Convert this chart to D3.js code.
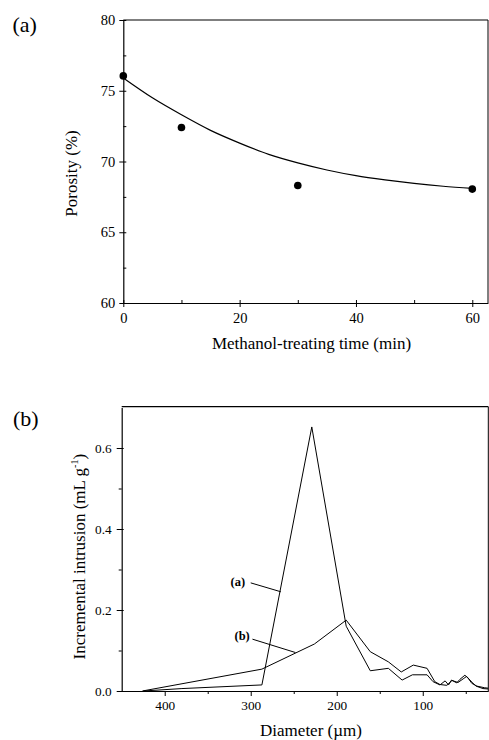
<!DOCTYPE html>
<html>
<head>
<meta charset="utf-8">
<script src="https://cdn.jsdelivr.net/npm/d3@7"></script>
<style>
  html, body { margin: 0; padding: 0; background: #fff; }
  svg { display: block; }
  text { font-family: "Liberation Serif", "Times New Roman", serif; fill: #000; }
</style>
</head>
<body>
<svg id="chart" width="489" height="740"></svg>
<script>
// ---------- Panel (a) data ----------
const timeMin = [0, 10, 30, 60];
const porosity = [76.05, 72.4, 68.3, 68.05];
// fitted curve
const fitTime = [0, 5, 10, 15, 20, 25, 30, 35, 40, 45, 50, 55, 60];
const fitPorosity = [75.9, 74.5, 73.3, 72.2, 71.3, 70.5, 69.9, 69.4, 69.0, 68.7, 68.45, 68.25, 68.1];
const aXTicks = [0, 20, 40, 60];
const aXMinor = [10, 30, 50];
const aYTicks = [60, 65, 70, 75, 80];
const aYMinor = [62.5, 67.5, 72.5, 77.5];

// ---------- Panel (b) data ----------
const diamA = [425, 380, 287, 229, 189, 161, 140, 124, 112, 95, 88, 80, 74, 70, 66.6, 60.5, 56.7, 51, 47, 43, 37, 28, 24];
const intrA = [0, 0.006, 0.015, 0.652, 0.16, 0.05, 0.056, 0.027, 0.04, 0.04, 0.023, 0.015, 0.025, 0.015, 0.027, 0.02, 0.029, 0.039, 0.031, 0.019, 0.012, 0.008, 0.007];
const diamB = [426, 287, 226, 189, 161, 140, 125, 111, 95, 86, 80, 72, 66, 59, 53, 49, 43, 38, 30, 24];
const intrB = [0, 0.054, 0.116, 0.175, 0.097, 0.072, 0.047, 0.064, 0.056, 0.023, 0.016, 0.014, 0.026, 0.021, 0.03, 0.036, 0.022, 0.012, 0.006, 0.005];
const bXTicks = [400, 300, 200, 100];
const bXMinor = [350, 250, 150, 50];
const bYTicks = [0, 0.2, 0.4, 0.6];
const bYMinor = [0.1, 0.3, 0.5];
// annotation labels (data coordinates): label point, leader start, leader end
const annoNames = ["(a)", "(b)"];
const annoLabel = [[315, 0.27], [310, 0.136]];
const annoFrom = [[300, 0.267], [298, 0.128]];
const annoTo = [[265, 0.245], [248, 0.095]];

const svg = d3.select("#chart");

function drawTicks(g, axisGen, vals, minor, fontSize, fmt, outer, inner) {
  const ax = g.call(axisGen.tickValues(vals).tickSize(outer).tickSizeOuter(0).tickFormat(fmt));
  ax.select(".domain").attr("stroke", "#000").attr("stroke-width", 1.2);
  ax.selectAll(".tick text").style("font-size", fontSize + "px").style("font-family", '"Liberation Serif", serif');
  return ax;
}

// ================= PANEL (a) =================
{
  const L = 123.3, R = 488, T = 20, B = 303;
  const x = d3.scaleLinear().domain([0, 62.7]).range([L, R]);
  const y = d3.scaleLinear().domain([60, 80]).range([B, T]);
  const g = svg.append("g");

  // frame top & right
  g.append("line").attr("x1", L).attr("x2", R).attr("y1", T).attr("y2", T).attr("stroke", "#000").attr("stroke-width", 1.2);
  g.append("line").attr("x1", R).attr("x2", R).attr("y1", T).attr("y2", B).attr("stroke", "#000").attr("stroke-width", 1);

  const xa = g.append("g").attr("transform", `translate(0,${B})`)
    .call(d3.axisBottom(x).tickValues(aXTicks).tickSize(4).tickSizeOuter(0).tickPadding(6).tickFormat(d3.format("d")));
  xa.select(".domain").attr("stroke", "#000").attr("stroke-width", 1.2);
  xa.selectAll(".tick line").attr("y1", -3);
  xa.selectAll(".tick text").style("font-size", "14.5px");
  const xm = g.append("g").attr("transform", `translate(0,${B})`)
    .call(d3.axisBottom(x).tickValues(aXMinor).tickSize(-3).tickSizeOuter(0).tickFormat(""));
  xm.select(".domain").remove();

  const ya = g.append("g").attr("transform", `translate(${L},0)`)
    .call(d3.axisLeft(y).tickValues(aYTicks).tickSize(4).tickSizeOuter(0).tickPadding(4).tickFormat(d3.format("d")));
  ya.select(".domain").attr("stroke", "#000").attr("stroke-width", 1.2);
  ya.selectAll(".tick line").attr("x1", 3);
  ya.selectAll(".tick text").style("font-size", "14.5px");
  const ym = g.append("g").attr("transform", `translate(${L},0)`)
    .call(d3.axisLeft(y).tickValues(aYMinor).tickSize(-3).tickSizeOuter(0).tickFormat(""));
  ym.select(".domain").remove();

  // fitted curve
  const line = d3.line().x(d => x(d[0])).y(d => y(d[1])).curve(d3.curveMonotoneX);
  g.append("path").datum(d3.zip(fitTime, fitPorosity)).attr("d", line)
    .attr("fill", "none").attr("stroke", "#000").attr("stroke-width", 1.2);

  // points
  g.selectAll("circle.pt").data(d3.zip(timeMin, porosity)).enter().append("circle")
    .attr("class", "pt").attr("cx", d => x(d[0])).attr("cy", d => y(d[1])).attr("r", 3.8).attr("fill", "#000");

  // titles
  g.append("text").attr("transform", `translate(76.5,${(T + B) / 2 + 12}) rotate(-90)`)
    .attr("text-anchor", "middle").style("font-size", "17px").text("Porosity (%)");
  g.append("text").attr("x", 311.5).attr("y", 349.3).attr("text-anchor", "middle")
    .style("font-size", "17px").text("Methanol-treating time (min)");
  svg.append("text").attr("x", 12.5).attr("y", 32).style("font-size", "22px").text("(a)");
}

// ================= PANEL (b) =================
{
  const L = 121.7, R = 488.3, T = 406.7, B = 691;
  const x = d3.scaleLinear().domain([450, 23.8]).range([L, R]);
  const y = d3.scaleLinear().domain([0, 0.7]).range([B, B - 0.7 * 405]);
  const g = svg.append("g");

  g.append("line").attr("x1", L).attr("x2", R).attr("y1", T).attr("y2", T).attr("stroke", "#000").attr("stroke-width", 1.2);
  g.append("line").attr("x1", R).attr("x2", R).attr("y1", T).attr("y2", B).attr("stroke", "#000").attr("stroke-width", 1);

  const xa = g.append("g").attr("transform", `translate(0,${B})`)
    .call(d3.axisBottom(x).tickValues(bXTicks).tickSize(5).tickSizeOuter(0).tickPadding(5).tickFormat(d3.format("d")));
  xa.select(".domain").attr("stroke", "#000").attr("stroke-width", 1.2);
  xa.selectAll(".tick text").style("font-size", "13.3px");
  const xm = g.append("g").attr("transform", `translate(0,${B})`)
    .call(d3.axisBottom(x).tickValues(bXMinor).tickSize(3).tickSizeOuter(0).tickFormat(""));
  xm.select(".domain").remove();

  const ya = g.append("g").attr("transform", `translate(${L},0)`)
    .call(d3.axisLeft(y).tickValues(bYTicks).tickSize(5).tickSizeOuter(0).tickPadding(5).tickFormat(d3.format(".1f")));
  ya.select(".domain").attr("stroke", "#000").attr("stroke-width", 1.2);
  ya.selectAll(".tick line").attr("x1", 2);
  ya.selectAll(".tick text").style("font-size", "13.3px");
  const ym = g.append("g").attr("transform", `translate(${L},0)`)
    .call(d3.axisLeft(y).tickValues(bYMinor).tickSize(3).tickSizeOuter(0).tickFormat(""));
  ym.select(".domain").remove();

  const line = d3.line().x(d => x(d[0])).y(d => y(d[1]));
  g.append("path").datum(d3.zip(diamA, intrA)).attr("d", line)
    .attr("fill", "none").attr("stroke", "#000").attr("stroke-width", 1);
  g.append("path").datum(d3.zip(diamB, intrB)).attr("d", line)
    .attr("fill", "none").attr("stroke", "#000").attr("stroke-width", 1);

  // annotations
  annoNames.forEach((nm, i) => {
    g.append("text").attr("x", x(annoLabel[i][0])).attr("y", y(annoLabel[i][1]) + 4)
      .attr("text-anchor", "middle").style("font-size", "12.5px").style("font-weight", "bold").text(nm);
    g.append("line").attr("x1", x(annoFrom[i][0])).attr("y1", y(annoFrom[i][1]))
      .attr("x2", x(annoTo[i][0])).attr("y2", y(annoTo[i][1]))
      .attr("stroke", "#000").attr("stroke-width", 1);
  });

  // titles
  const yt = g.append("text").attr("transform", `translate(84.5,556.7) rotate(-90)`)
    .attr("text-anchor", "middle").style("font-size", "17px");
  yt.append("tspan").text("Incremental intrusion (mL g");
  yt.append("tspan").attr("dy", -7).style("font-size", "10px").text("-1");
  yt.append("tspan").attr("dy", 7).text(")");
  g.append("text").attr("x", 311).attr("y", 736).attr("text-anchor", "middle")
    .style("font-size", "17px").text("Diameter (\u00b5m)");
  svg.append("text").attr("x", 13).attr("y", 426).style("font-size", "22px").text("(b)");
}
</script>
</body>
</html>
